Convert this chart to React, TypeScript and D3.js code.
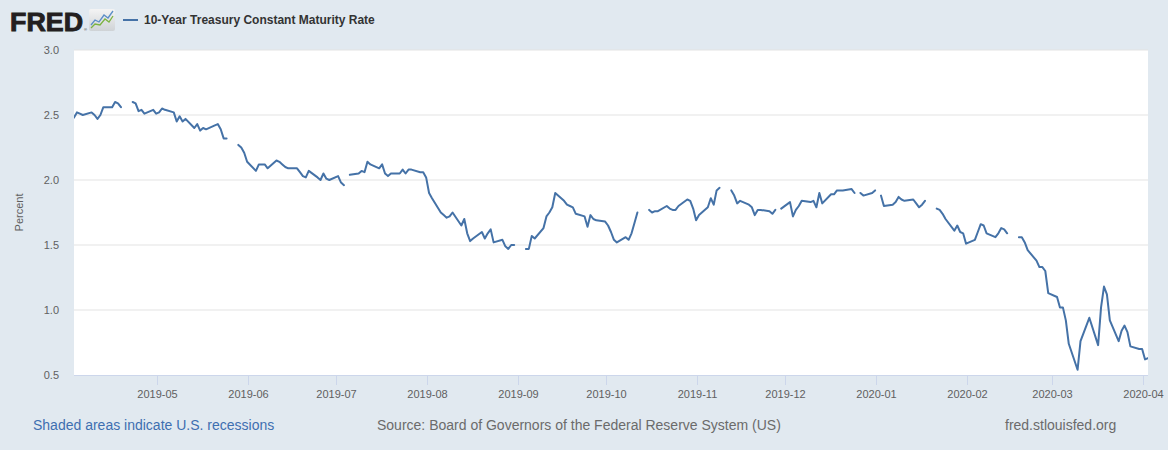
import React from "react";
import * as d3 from "d3";

// ---- data (DGS10, percent) ----
const seriesTitle = "10-Year Treasury Constant Maturity Rate";
const yTicks = [0.5, 1.0, 1.5, 2.0, 2.5, 3.0];
const monthTicks = [
  "2019-05", "2019-06", "2019-07", "2019-08", "2019-09", "2019-10",
  "2019-11", "2019-12", "2020-01", "2020-02", "2020-03", "2020-04",
];
const domainStart = "2019-04-02";
const domainEnd = "2020-04-02";

const apr2019: [string, number | null][] = [
  ["2019-04-02", 2.48], ["2019-04-03", 2.52], ["2019-04-04", 2.51], ["2019-04-05", 2.5],
  ["2019-04-08", 2.52], ["2019-04-09", 2.5], ["2019-04-10", 2.47], ["2019-04-11", 2.5],
  ["2019-04-12", 2.56], ["2019-04-15", 2.56], ["2019-04-16", 2.6], ["2019-04-17", 2.59],
  ["2019-04-18", 2.56], ["2019-04-19", null], ["2019-04-22", 2.6], ["2019-04-23", 2.59],
  ["2019-04-24", 2.53], ["2019-04-25", 2.54], ["2019-04-26", 2.51], ["2019-04-29", 2.54],
  ["2019-04-30", 2.51],
];
const may2019: [string, number | null][] = [
  ["2019-05-01", 2.52], ["2019-05-02", 2.55], ["2019-05-03", 2.54], ["2019-05-06", 2.52],
  ["2019-05-07", 2.45], ["2019-05-08", 2.49], ["2019-05-09", 2.45], ["2019-05-10", 2.47],
  ["2019-05-13", 2.4], ["2019-05-14", 2.43], ["2019-05-15", 2.38], ["2019-05-16", 2.4],
  ["2019-05-17", 2.39], ["2019-05-20", 2.42], ["2019-05-21", 2.43], ["2019-05-22", 2.39],
  ["2019-05-23", 2.32], ["2019-05-24", 2.32], ["2019-05-27", null], ["2019-05-28", 2.27],
  ["2019-05-29", 2.25], ["2019-05-30", 2.21], ["2019-05-31", 2.14],
];
const jun2019: [string, number | null][] = [
  ["2019-06-03", 2.07], ["2019-06-04", 2.12], ["2019-06-05", 2.12], ["2019-06-06", 2.12],
  ["2019-06-07", 2.09], ["2019-06-10", 2.15], ["2019-06-11", 2.14], ["2019-06-12", 2.12],
  ["2019-06-13", 2.1], ["2019-06-14", 2.09], ["2019-06-17", 2.09], ["2019-06-18", 2.06],
  ["2019-06-19", 2.03], ["2019-06-20", 2.02], ["2019-06-21", 2.07], ["2019-06-24", 2.02],
  ["2019-06-25", 2.0], ["2019-06-26", 2.05], ["2019-06-27", 2.01], ["2019-06-28", 2.0],
];
const jul2019: [string, number | null][] = [
  ["2019-07-01", 2.03], ["2019-07-02", 1.98], ["2019-07-03", 1.96], ["2019-07-04", null],
  ["2019-07-05", 2.04], ["2019-07-08", 2.05], ["2019-07-09", 2.07], ["2019-07-10", 2.06],
  ["2019-07-11", 2.14], ["2019-07-12", 2.12], ["2019-07-15", 2.09], ["2019-07-16", 2.12],
  ["2019-07-17", 2.05], ["2019-07-18", 2.03], ["2019-07-19", 2.05], ["2019-07-22", 2.05],
  ["2019-07-23", 2.08], ["2019-07-24", 2.05], ["2019-07-25", 2.08], ["2019-07-26", 2.08],
  ["2019-07-29", 2.06], ["2019-07-30", 2.06], ["2019-07-31", 2.02],
];
const aug2019: [string, number | null][] = [
  ["2019-08-01", 1.9], ["2019-08-02", 1.86], ["2019-08-05", 1.75], ["2019-08-06", 1.73],
  ["2019-08-07", 1.71], ["2019-08-08", 1.72], ["2019-08-09", 1.75], ["2019-08-12", 1.65],
  ["2019-08-13", 1.7], ["2019-08-14", 1.59], ["2019-08-15", 1.53], ["2019-08-16", 1.55],
  ["2019-08-19", 1.6], ["2019-08-20", 1.55], ["2019-08-21", 1.59], ["2019-08-22", 1.62],
  ["2019-08-23", 1.52], ["2019-08-26", 1.54], ["2019-08-27", 1.49], ["2019-08-28", 1.47],
  ["2019-08-29", 1.5], ["2019-08-30", 1.5],
];
const sep2019: [string, number | null][] = [
  ["2019-09-02", null], ["2019-09-03", 1.47], ["2019-09-04", 1.47], ["2019-09-05", 1.57],
  ["2019-09-06", 1.55], ["2019-09-09", 1.63], ["2019-09-10", 1.72], ["2019-09-11", 1.75],
  ["2019-09-12", 1.79], ["2019-09-13", 1.9], ["2019-09-16", 1.84], ["2019-09-17", 1.81],
  ["2019-09-18", 1.8], ["2019-09-19", 1.79], ["2019-09-20", 1.74], ["2019-09-23", 1.72],
  ["2019-09-24", 1.64], ["2019-09-25", 1.73], ["2019-09-26", 1.7], ["2019-09-27", 1.69],
  ["2019-09-30", 1.68],
];
const oct2019: [string, number | null][] = [
  ["2019-10-01", 1.65], ["2019-10-02", 1.6], ["2019-10-03", 1.54], ["2019-10-04", 1.52],
  ["2019-10-07", 1.56], ["2019-10-08", 1.54], ["2019-10-09", 1.59], ["2019-10-10", 1.67],
  ["2019-10-11", 1.75], ["2019-10-14", null], ["2019-10-15", 1.77], ["2019-10-16", 1.75],
  ["2019-10-17", 1.76], ["2019-10-18", 1.76], ["2019-10-21", 1.8], ["2019-10-22", 1.78],
  ["2019-10-23", 1.77], ["2019-10-24", 1.77], ["2019-10-25", 1.8], ["2019-10-28", 1.85],
  ["2019-10-29", 1.84], ["2019-10-30", 1.78], ["2019-10-31", 1.69],
];
const nov2019: [string, number | null][] = [
  ["2019-11-01", 1.73], ["2019-11-04", 1.79], ["2019-11-05", 1.86], ["2019-11-06", 1.81],
  ["2019-11-07", 1.92], ["2019-11-08", 1.94], ["2019-11-11", null], ["2019-11-12", 1.92],
  ["2019-11-13", 1.88], ["2019-11-14", 1.82], ["2019-11-15", 1.84], ["2019-11-18", 1.81],
  ["2019-11-19", 1.79], ["2019-11-20", 1.73], ["2019-11-21", 1.77], ["2019-11-22", 1.77],
  ["2019-11-25", 1.76], ["2019-11-26", 1.74], ["2019-11-27", 1.77], ["2019-11-28", null],
  ["2019-11-29", 1.78],
];
const dec2019: [string, number | null][] = [
  ["2019-12-02", 1.83], ["2019-12-03", 1.72], ["2019-12-04", 1.77], ["2019-12-05", 1.8],
  ["2019-12-06", 1.84], ["2019-12-09", 1.83], ["2019-12-10", 1.84], ["2019-12-11", 1.79],
  ["2019-12-12", 1.9], ["2019-12-13", 1.82], ["2019-12-16", 1.89], ["2019-12-17", 1.89],
  ["2019-12-18", 1.92], ["2019-12-19", 1.92], ["2019-12-20", 1.92], ["2019-12-23", 1.93],
  ["2019-12-24", 1.9], ["2019-12-25", null], ["2019-12-26", 1.9], ["2019-12-27", 1.88],
  ["2019-12-30", 1.9], ["2019-12-31", 1.92],
];
const jan2020: [string, number | null][] = [
  ["2020-01-01", null], ["2020-01-02", 1.88], ["2020-01-03", 1.8], ["2020-01-06", 1.81],
  ["2020-01-07", 1.83], ["2020-01-08", 1.87], ["2020-01-09", 1.85], ["2020-01-10", 1.84],
  ["2020-01-13", 1.85], ["2020-01-14", 1.82], ["2020-01-15", 1.79], ["2020-01-16", 1.81],
  ["2020-01-17", 1.84], ["2020-01-20", null], ["2020-01-21", 1.78], ["2020-01-22", 1.77],
  ["2020-01-23", 1.74], ["2020-01-24", 1.7], ["2020-01-27", 1.61], ["2020-01-28", 1.65],
  ["2020-01-29", 1.6], ["2020-01-30", 1.59], ["2020-01-31", 1.51],
];
const feb2020: [string, number | null][] = [
  ["2020-02-03", 1.54], ["2020-02-04", 1.6], ["2020-02-05", 1.66], ["2020-02-06", 1.65],
  ["2020-02-07", 1.59], ["2020-02-10", 1.56], ["2020-02-11", 1.59], ["2020-02-12", 1.63],
  ["2020-02-13", 1.62], ["2020-02-14", 1.59], ["2020-02-17", null], ["2020-02-18", 1.56],
  ["2020-02-19", 1.56], ["2020-02-20", 1.52], ["2020-02-21", 1.46], ["2020-02-24", 1.38],
  ["2020-02-25", 1.33], ["2020-02-26", 1.33], ["2020-02-27", 1.3], ["2020-02-28", 1.13],
];
const mar2020: [string, number | null][] = [
  ["2020-03-02", 1.1], ["2020-03-03", 1.02], ["2020-03-04", 1.02], ["2020-03-05", 0.92],
  ["2020-03-06", 0.74], ["2020-03-09", 0.54], ["2020-03-10", 0.76], ["2020-03-11", 0.82],
  ["2020-03-12", 0.88], ["2020-03-13", 0.94], ["2020-03-16", 0.73], ["2020-03-17", 1.02],
  ["2020-03-18", 1.18], ["2020-03-19", 1.12], ["2020-03-20", 0.92], ["2020-03-23", 0.76],
  ["2020-03-24", 0.84], ["2020-03-25", 0.88], ["2020-03-26", 0.83], ["2020-03-27", 0.72],
  ["2020-03-30", 0.7], ["2020-03-31", 0.7],
];
const apr2020: [string, number | null][] = [
  ["2020-04-01", 0.62], ["2020-04-02", 0.63],
];

// ---- layout ----
const W = 1168;
const H = 450;
const M = { left: 74, right: 1148, top: 50, bottom: 375 };
const FONT = "'Liberation Sans', Arial, Helvetica, sans-serif";
const LINE_COLOR = "#4572a7";
const TICK_SHIFT = -1.7;

type Pt = { date: Date; v: number | null };

export default function App() {
  const parse = d3.utcParse("%Y-%m-%d");
  const parseM = d3.utcParse("%Y-%m");
  const all = [
    ...apr2019, ...may2019, ...jun2019, ...jul2019, ...aug2019, ...sep2019,
    ...oct2019, ...nov2019, ...dec2019, ...jan2020, ...feb2020, ...mar2020, ...apr2020,
  ];
  const data: Pt[] = all.map(([d, v]) => ({ date: parse(d) as Date, v }));

  const x = d3
    .scaleUtc()
    .domain([parse(domainStart) as Date, parse(domainEnd) as Date])
    .range([M.left, M.right]);
  const y = d3.scaleLinear().domain([0.5, 3.0]).range([M.bottom, M.top]);

  const line = d3
    .line<Pt>()
    .defined((d) => d.v != null)
    .x((d) => x(d.date))
    .y((d) => y(d.v as number));

  const path = line(data) || "";

  return (
    <svg
      width={W}
      height={H}
      style={{ position: "absolute", left: 0, top: 0, display: "block" }}
      fontFamily={FONT}
    >
      <defs>
        <linearGradient id="iconGrad" x1="0" y1="0" x2="0" y2="1">
          <stop offset="0" stopColor="#f4f4f4" />
          <stop offset="1" stopColor="#cfd3d6" />
        </linearGradient>
        <clipPath id="plotClip">
          <rect x={M.left} y={M.top - 2} width={M.right - M.left} height={M.bottom - M.top + 4} />
        </clipPath>
      </defs>
      <rect x={0} y={0} width={W} height={H} fill="#e1e9f0" />

      {/* header */}
      <text
        x={10}
        y={31}
        fontSize={26}
        fontWeight={900}
        fill="#231f20"
        stroke="#231f20"
        strokeWidth={0.9}
        textLength={73}
        lengthAdjust="spacingAndGlyphs"
      >
        FRED
      </text>
      <text x={84} y={31} fontSize={4} fill="#231f20">®</text>
      <rect x={89} y={9} width={26} height={22} rx={2} fill="url(#iconGrad)" />
      <polyline
        points="91,25 95,20 99,22 104,15 108,18 113,11"
        fill="none"
        stroke="#5b8ec7"
        strokeWidth={1.3}
      />
      <polyline
        points="91,28 95,24 100,25 105,19 109,22 113,16"
        fill="none"
        stroke="#7cb342"
        strokeWidth={1.3}
      />
      <line x1={123} x2={138} y1={20} y2={20} stroke={LINE_COLOR} strokeWidth={2} />
      <text x={144} y={24} fontSize={12} fontWeight="bold" fill="#333333">
        {seriesTitle}
      </text>

      {/* plot */}
      <rect x={M.left} y={M.top} width={M.right - M.left} height={M.bottom - M.top} fill="#ffffff" />
      {yTicks.map((t) => (
        <g key={t}>
          {t > 0.5 && (
            <line x1={M.left} x2={M.right} y1={y(t)} y2={y(t)} stroke="#e3e3e3" strokeWidth={1} />
          )}
          <text
            x={59}
            y={y(t) + 4}
            fontSize={11}
            fill="#606060"
            textAnchor="end"
          >
            {t.toFixed(1)}
          </text>
        </g>
      ))}
      <line x1={M.left} x2={M.right} y1={M.bottom + 0.5} y2={M.bottom + 0.5} stroke="#ccd6eb" strokeWidth={1} />
      {monthTicks.map((m) => {
        const xx = Math.round(x(parseM(m) as Date) + TICK_SHIFT) + 0.5;
        return (
          <g key={m}>
            <line x1={xx} x2={xx} y1={M.bottom} y2={M.bottom + 10} stroke="#ccd6eb" strokeWidth={1} />
            <text x={xx} y={398} fontSize={11} fill="#606060" textAnchor="middle">
              {m}
            </text>
          </g>
        );
      })}
      <text
        transform={`translate(23, ${(M.top + M.bottom) / 2}) rotate(-90)`}
        fontSize={11}
        fill="#606060"
        textAnchor="middle"
      >
        Percent
      </text>

      <path
        d={path}
        fill="none"
        stroke={LINE_COLOR}
        strokeWidth={2}
        strokeLinejoin="round"
        strokeLinecap="round"
        clipPath="url(#plotClip)"
      />

      {/* footer */}
      <text x={33} y={430} fontSize={14} fill="#3e6fb0">
        Shaded areas indicate U.S. recessions
      </text>
      <text x={377} y={430} fontSize={14} fill="#6b6b6b">
        Source: Board of Governors of the Federal Reserve System (US)
      </text>
      <text x={1005} y={430} fontSize={14} fill="#6b6b6b">
        fred.stlouisfed.org
      </text>
    </svg>
  );
}
